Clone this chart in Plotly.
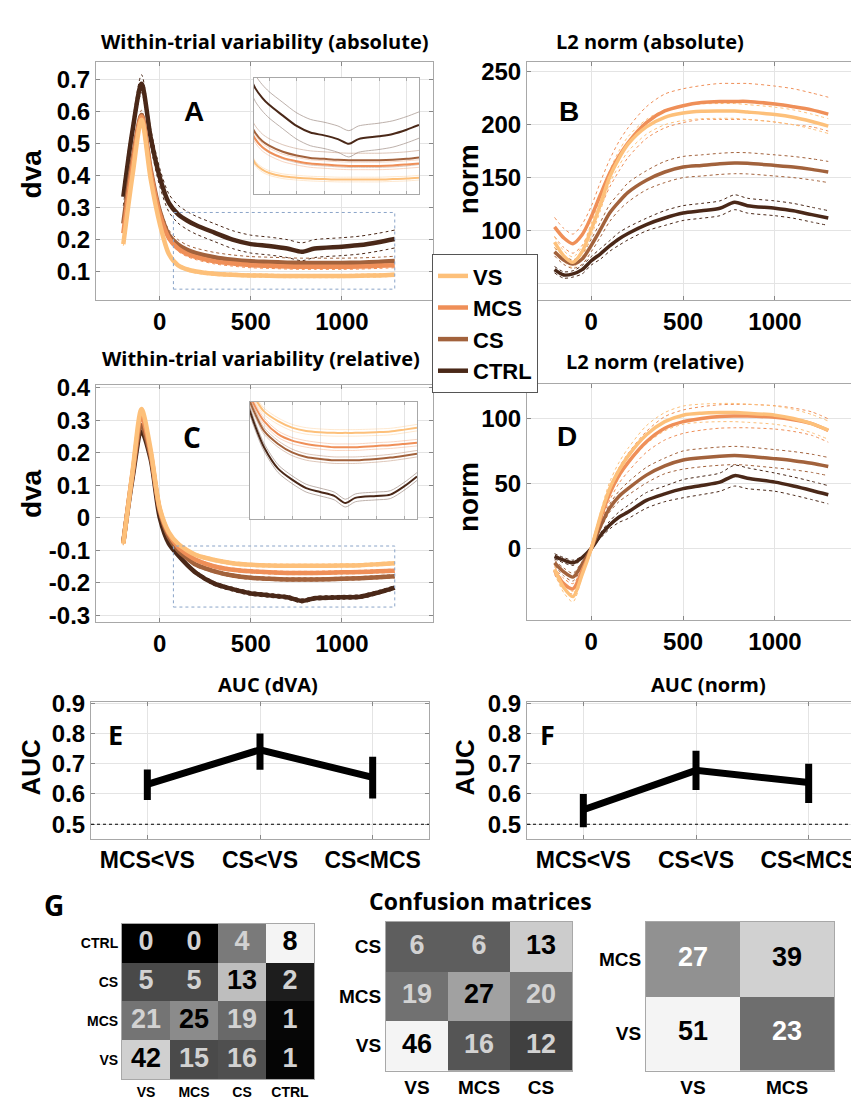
import numpy as np
import plotly.graph_objects as go

W, H = 859, 1101

# ---------------- data ----------------
GROUPS = ["VS", "MCS", "CS", "CTRL"]
COLORS = {"VS": "#FDC07A", "MCS": "#EF8F58", "CS": "#A2623C", "CTRL": "#4A2818"}

T = [-200, -150, -100, -50, 0, 50, 100, 150, 200, 300, 400, 500, 600, 700, 780, 850, 1000, 1100, 1200, 1290]

# A: within-trial variability (absolute), dva
A_VS = [0.186, 0.40, 0.575, 0.39, 0.25, 0.155, 0.12, 0.107, 0.10, 0.093, 0.09, 0.088, 0.087, 0.086, 0.086, 0.086, 0.086, 0.087, 0.088, 0.09]
A_MCS = [0.22, 0.43, 0.585, 0.41, 0.28, 0.205, 0.172, 0.155, 0.145, 0.132, 0.125, 0.12, 0.118, 0.116, 0.115, 0.115, 0.115, 0.116, 0.118, 0.12]
A_CS = [0.25, 0.45, 0.59, 0.42, 0.29, 0.215, 0.185, 0.168, 0.158, 0.145, 0.137, 0.132, 0.13, 0.128, 0.127, 0.127, 0.127, 0.128, 0.13, 0.133]
A_CTRL = [0.334, 0.54, 0.688, 0.52, 0.395, 0.315, 0.28, 0.26, 0.245, 0.222, 0.20, 0.186, 0.18, 0.172, 0.162, 0.172, 0.178, 0.183, 0.192, 0.202]
A_SEM = {"VS": 0.005, "MCS": 0.008, "CS": 0.015, "CTRL": 0.028}

# B: L2 norm (absolute)
B_VS = [89, 76, 70, 80, 101, 125, 150.6, 168, 181.7, 198, 207, 211, 212.7, 213, 213, 212, 209.6, 207, 203, 198.7]
B_MCS = [103.4, 93, 87.6, 96, 113, 134, 154, 170, 183, 202, 213, 218, 221, 222, 222, 222, 219.5, 217, 214, 210]
B_CS = [80, 72, 68.3, 73, 86, 101, 116.5, 127, 136, 147.5, 155.3, 160, 161.5, 163, 163.7, 163.5, 161.5, 160, 157.8, 155.3]
B_CTRL = [63, 58, 59, 63, 71.4, 78, 85.4, 92, 97.2, 105.6, 111.8, 116.5, 118.6, 121, 126.7, 123.5, 121, 118.6, 115, 111.8]
B_SEM_VS = [5, 5, 5, 5, 6, 6, 6, 7, 7, 7, 7, 7, 7, 7, 7, 7, 7, 7, 7, 7]
B_SEM_MCS = [9, 9, 9, 10, 10, 12, 13, 14, 14, 15, 16, 16, 16, 17, 17, 17, 17, 17, 16, 16]
B_SEM_CS = [4, 4, 4, 5, 6, 7, 8, 8, 9, 9, 10, 10, 10, 10, 10, 10, 10, 10, 10, 10]
B_SEM_CTRL = [3, 3, 3, 4, 4, 5, 5, 6, 6, 6, 7, 7, 7, 7, 7, 7, 7, 7, 7, 7]

# C: within-trial variability (relative)
C_VS = [-0.08, 0.14, 0.335, 0.21, 0.03, -0.045, -0.08, -0.10, -0.115, -0.13, -0.14, -0.145, -0.147, -0.148, -0.148, -0.148, -0.147, -0.146, -0.143, -0.14]
C_MCS = [-0.078, 0.135, 0.31, 0.20, 0.025, -0.05, -0.09, -0.113, -0.13, -0.15, -0.16, -0.165, -0.168, -0.17, -0.17, -0.17, -0.168, -0.167, -0.165, -0.163]
C_CS = [-0.078, 0.13, 0.285, 0.19, 0.02, -0.06, -0.10, -0.125, -0.145, -0.165, -0.178, -0.185, -0.188, -0.19, -0.19, -0.19, -0.188, -0.186, -0.183, -0.18]
C_CTRL = [-0.075, 0.12, 0.265, 0.18, 0.0, -0.08, -0.115, -0.145, -0.17, -0.203, -0.22, -0.233, -0.239, -0.245, -0.256, -0.248, -0.245, -0.243, -0.23, -0.215]
C_SEM = {"VS": 0.005, "MCS": 0.005, "CS": 0.005, "CTRL": 0.006}

# D: L2 norm (relative)
D_VS = [-16, -30, -37, -20, 0, 25, 46, 60, 71, 87.4, 97.5, 102.5, 104, 104.5, 104.5, 104, 102.5, 100, 96, 91]
D_MCS = [-17, -27, -31, -17, 0, 23, 42, 56, 66, 82, 92.4, 97.5, 100, 101.5, 101.8, 101.8, 100.8, 99, 96, 90.7]
D_CS = [-11, -18, -22, -12, 0, 17, 31, 40, 46, 56.4, 63.5, 68, 69.8, 71, 71.5, 71, 69, 67.5, 65.5, 63]
D_CTRL = [-6, -9, -11, -7, 0, 10, 18, 24, 28, 37, 42, 46, 48.4, 51, 56, 54, 51, 48, 44.6, 41.3]
D_SEM_VS = [3, 4, 4, 2, 0, 3, 5, 6, 6, 7, 7, 7, 7, 7, 7, 7, 7, 7, 7, 7]
D_SEM_MCS = [3, 4, 4, 2, 0, 3, 5, 6, 7, 8, 9, 9, 9, 9, 9, 9, 9, 9, 9, 9]
D_SEM_CS = [2, 3, 3, 2, 0, 2, 3, 4, 5, 6, 6, 7, 7, 7, 7, 7, 7, 7, 7, 7]
D_SEM_CTRL = [2, 2, 2, 1, 0, 2, 3, 4, 5, 6, 6, 7, 7, 7, 8, 8, 7, 7, 7, 7]

# E / F: AUC
COMPARISONS = ["MCS<VS", "CS<VS", "CS<MCS"]
AUC_DVA = [0.632, 0.746, 0.655]
AUC_DVA_LO = [0.580, 0.680, 0.585]
AUC_DVA_HI = [0.681, 0.800, 0.723]
AUC_NORM = [0.548, 0.678, 0.638]
AUC_NORM_LO = [0.490, 0.613, 0.570]
AUC_NORM_HI = [0.600, 0.743, 0.700]
CHANCE = 0.5

# G: confusion matrices (rows = true class, bottom to top; columns = predicted)
M1_LABELS = ["VS", "MCS", "CS", "CTRL"]
M1_COUNTS = [[42, 15, 16, 1],
             [21, 25, 19, 1],
             [5, 5, 13, 2],
             [0, 0, 4, 8]]
M2_LABELS = ["VS", "MCS", "CS"]
M2_COUNTS = [[46, 16, 12],
             [19, 27, 20],
             [6, 6, 13]]
M3_LABELS = ["VS", "MCS"]
M3_COUNTS = [[51, 23],
             [27, 39]]

# ---------------- styles ----------------
ARIAL = "Arial"
CAL = "Open Sans"
TICKFONT = dict(family=ARIAL, size=24, color="black", weight="bold")
GRID = "#e4e4e4"
LINE = "#a8a8a8"


def dx(l, r):
    return [l / W, r / W]


def dy(top, bottom):
    return [1 - bottom / H, 1 - top / H]


fig = go.Figure()


def add_panel(xa, ya, series, sems, width, legend=False, sem_dash="dot", sem_width=1.0, sem_opacity=1.0):
    order = ["CTRL", "CS", "MCS", "VS"]
    for g in order:
        v = np.array(series[g], dtype=float)
        s = np.array(sems[g], dtype=float) * np.ones_like(v)
        for band in (v + s, v - s):
            fig.add_trace(go.Scatter(x=T, y=band, mode="lines", xaxis=xa, yaxis=ya,
                                     line=dict(color=COLORS[g], width=sem_width, dash=sem_dash, shape="spline", smoothing=0.8),
                                     opacity=sem_opacity, showlegend=False, hoverinfo="skip"))
    for g in order:
        fig.add_trace(go.Scatter(x=T, y=series[g], mode="lines", xaxis=xa, yaxis=ya, name=g,
                                 line=dict(color=COLORS[g], width=width, shape="spline", smoothing=0.8),
                                 showlegend=legend, legendrank=GROUPS.index(g) + 1, hoverinfo="skip"))


A = {"VS": A_VS, "MCS": A_MCS, "CS": A_CS, "CTRL": A_CTRL}
B = {"VS": B_VS, "MCS": B_MCS, "CS": B_CS, "CTRL": B_CTRL}
C = {"VS": C_VS, "MCS": C_MCS, "CS": C_CS, "CTRL": C_CTRL}
D = {"VS": D_VS, "MCS": D_MCS, "CS": D_CS, "CTRL": D_CTRL}
B_SEM = {"VS": B_SEM_VS, "MCS": B_SEM_MCS, "CS": B_SEM_CS, "CTRL": B_SEM_CTRL}
D_SEM = {"VS": D_SEM_VS, "MCS": D_SEM_MCS, "CS": D_SEM_CS, "CTRL": D_SEM_CTRL}

add_panel("x", "y", A, A_SEM, 4.5, legend=True)
add_panel("x2", "y2", B, B_SEM, 3.5)
add_panel("x3", "y3", C, C_SEM, 4.5)
add_panel("x4", "y4", D, D_SEM, 3.5)
# insets
add_panel("x7", "y7", A, A_SEM, 2.0, sem_dash="solid", sem_width=0.8, sem_opacity=0.45)
add_panel("x8", "y8", C, C_SEM, 2.0, sem_dash="solid", sem_width=0.8, sem_opacity=0.45)

# AUC panels
XPOS = [1, 2, 3]
for xa, ya, vals, lo, hi in (("x5", "y5", AUC_DVA, AUC_DVA_LO, AUC_DVA_HI),
                             ("x6", "y6", AUC_NORM, AUC_NORM_LO, AUC_NORM_HI)):
    plus = [h - v for h, v in zip(hi, vals)]
    minus = [v - l for v, l in zip(vals, lo)]
    fig.add_trace(go.Scatter(x=XPOS, y=vals, mode="lines", xaxis=xa, yaxis=ya, showlegend=False,
                             line=dict(color="black", width=7), hoverinfo="skip",
                             error_y=dict(type="data", symmetric=False, array=plus, arrayminus=minus,
                                          thickness=7, width=0, color="black")))

# confusion matrices
def add_matrix(xa, ya, labels, counts, thr, light):
    cnt = np.array(counts, dtype=float)
    z = cnt / cnt.sum(axis=1, keepdims=True)
    zmax = z.max()
    fig.add_trace(go.Heatmap(x=labels, y=labels, z=z, xaxis=xa, yaxis=ya, zmin=0, zmax=zmax,
                             colorscale=[[0, "black"], [1, "#f4f4f4"]], showscale=False, hoverinfo="skip"))
    xs, ys, txt, cols = [], [], [], []
    for i, rl in enumerate(labels):
        for j, cl in enumerate(labels):
            xs.append(cl)
            ys.append(rl)
            txt.append(str(int(counts[i][j])))
            cols.append("black" if z[i, j] / zmax >= thr else light)
    fig.add_trace(go.Scatter(x=xs, y=ys, text=txt, mode="text", xaxis=xa, yaxis=ya, showlegend=False,
                             textfont=dict(family=ARIAL, size=27, color=cols, weight="bold"), hoverinfo="skip"))


add_matrix("x9", "y9", M1_LABELS, M1_COUNTS, 0.55, "#d2d2d2")
add_matrix("x10", "y10", M2_LABELS, M2_COUNTS, 0.55, "#d2d2d2")
add_matrix("x11", "y11", M3_LABELS, M3_COUNTS, 0.70, "#ffffff")


def line_axis(domain, rng, tickvals, anchor, ticktext=None, grid=True):
    d = dict(domain=domain, range=rng, tickvals=tickvals, anchor=anchor, showgrid=grid, gridcolor=GRID,
             gridwidth=1, zeroline=False, showline=True, mirror="ticks", linecolor=LINE, linewidth=1,
             ticks="inside", ticklen=4, tickcolor="#888", tickfont=TICKFONT)
    if ticktext is not None:
        d["ticktext"] = ticktext
    return d


XT = [0, 500, 1000]
CMP_TEXT = [c.replace("<", "&lt;") for c in COMPARISONS]
layout = dict(
    width=W, height=H, margin=dict(l=0, r=0, t=0, b=0), autosize=False,
    paper_bgcolor="white", plot_bgcolor="white", hovermode=False,
    xaxis=line_axis(dx(88, 425), [-350, 1500], XT, "y"),
    yaxis=line_axis(dy(43, 285), [0.01, 0.755], [0.1, 0.2, 0.3, 0.4, 0.5, 0.6, 0.7], "x",
                    ["0.1", "0.2", "0.3", "0.4", "0.5", "0.6", "0.7"]),
    xaxis2=line_axis(dx(519, 857), [-350, 1490], XT, "y2"),
    # the "50" label is hidden behind the legend in the original
    yaxis2=line_axis(dy(43, 285), [34, 259], [50, 100, 150, 200, 250], "x2", ["", "100", "150", "200", "250"]),
    xaxis3=line_axis(dx(88, 425), [-350, 1500], XT, "y3"),
    yaxis3=line_axis(dy(371, 612), [-0.321, 0.409], [-0.3, -0.2, -0.1, 0, 0.1, 0.2, 0.3, 0.4], "x3",
                     ["-0.3", "-0.2", "-0.1", "0", "0.1", "0.2", "0.3", "0.4"]),
    xaxis4=line_axis(dx(519, 857), [-350, 1490], XT, "y4"),
    yaxis4=line_axis(dy(370, 610), [-55, 126.5], [0, 50, 100], "x4"),
    xaxis5=line_axis(dx(83, 421), [0.5, 3.5], XPOS, "y5", CMP_TEXT),
    yaxis5=line_axis(dy(693, 833), [0.45, 0.905], [0.5, 0.6, 0.7, 0.8, 0.9], "x5",
                     ["0.5", "0.6", "0.7", "0.8", "0.9"]),
    xaxis6=line_axis(dx(519, 857), [0.5, 3.5], XPOS, "y6", CMP_TEXT),
    yaxis6=line_axis(dy(693, 833), [0.45, 0.905], [0.5, 0.6, 0.7, 0.8, 0.9], "x6",
                     ["0.5", "0.6", "0.7", "0.8", "0.9"]),
)
layout["xaxis5"]["tickfont"] = dict(family=ARIAL, size=23, color="black", weight="bold")
layout["xaxis6"]["tickfont"] = dict(family=ARIAL, size=23, color="black", weight="bold")

# inset axes
INSET_A_X, INSET_A_Y = [90, 1290], [0.055, 0.302]
INSET_C_X, INSET_C_Y = [100, 1290], [-0.28, -0.10]
for k, dom_x, dom_y, rx, ry in ((7, dx(246, 411), dy(59, 177), INSET_A_X, INSET_A_Y),
                                (8, dx(242, 409), dy(388, 507), INSET_C_X, INSET_C_Y)):
    layout[f"xaxis{k}"] = dict(domain=dom_x, range=rx, anchor=f"y{k}", showticklabels=False, showgrid=True,
                               gridcolor=GRID, tick0=0, dtick=200, zeroline=False, showline=True, mirror="ticks",
                               linecolor=LINE, ticks="inside", ticklen=3, tickcolor="#aaa")
    layout[f"yaxis{k}"] = dict(domain=dom_y, range=ry, anchor=f"x{k}", showticklabels=False, showgrid=False,
                               zeroline=False, showline=True, mirror=True, linecolor=LINE)

# matrix axes
for k, dom_x, dom_y, labels, fs in ((9, dx(114, 306), dy(919, 1077), M1_LABELS, 14),
                                     (10, dx(378, 564), dy(917, 1068), M2_LABELS, 19),
                                     (11, dx(638, 826), dy(917, 1068), M3_LABELS, 19)):
    common = dict(type="category", categoryorder="array", categoryarray=labels, showgrid=False, zeroline=False,
                  showline=True, mirror=True, linecolor=LINE, ticks="",
                  tickfont=dict(family=ARIAL, size=fs, color="black", weight="bold"))
    layout[f"xaxis{k}"] = dict(domain=dom_x, anchor=f"y{k}", **common)
    layout[f"yaxis{k}"] = dict(domain=dom_y, anchor=f"x{k}", **common)

layout["legend"] = dict(x=424 / W, y=1 - 238 / H, xanchor="left", yanchor="top", bgcolor="white",
                        bordercolor="#555", borderwidth=1, font=dict(family=ARIAL, size=22, color="black", weight="bold"),
                        itemwidth=30, tracegroupgap=0)
fig.update_layout(**layout)

# dotted zoom boxes
BOX_A = dict(x0=75, x1=1290, y0=0.045, y1=0.285)
BOX_C = dict(x0=75, x1=1290, y0=-0.275, y1=-0.087)
fig.add_shape(type="rect", xref="x", yref="y", **BOX_A, line=dict(color="#8aa4c8", width=1, dash="dot"))
fig.add_shape(type="rect", xref="x3", yref="y3", **BOX_C, line=dict(color="#8aa4c8", width=1, dash="dot"))
# chance lines
for k in (5, 6):
    fig.add_shape(type="line", xref=f"x{k} domain", x0=0, x1=1, yref=f"y{k}", y0=CHANCE, y1=CHANCE,
                  line=dict(color="black", width=1, dash="dot"))


def ann(text, x, y, size, family=CAL, angle=0):
    fig.add_annotation(text=text, x=x / W, y=1 - y / H, xref="paper", yref="paper", showarrow=False,
                       xanchor="center", yanchor="middle", textangle=angle,
                       font=dict(family=family, size=size, color="black", weight="bold"))


# titles
ann("Within-trial variability (absolute)", 257, 22, 20)
ann("L2 norm (absolute)", 642, 22, 20)
ann("Within-trial variability (relative)", 253, 344, 20)
ann("L2 norm (relative)", 647, 347, 20)
ann("AUC (dVA)", 260, 676, 20)
ann("AUC (norm)", 700, 676, 20)
ann("Confusion matrices", 472, 896, 23)
# panel letters
ann("A", 186, 93, 28, ARIAL)
ann("B", 561, 93, 28, ARIAL)
ann("C", 184, 424, 28, CAL)
ann("D", 559, 423, 28, ARIAL)
ann("E", 107, 726, 27, CAL)
ann("F", 539, 726, 27, CAL)
ann("G", 46, 900, 28, CAL)
# axis titles
ann("dva", 23, 157, 28, ARIAL, -90)
ann("norm", 460, 162, 28, ARIAL, -90)
ann("dva", 23, 482, 28, ARIAL, -90)
ann("norm", 460, 485, 28, ARIAL, -90)
ann("AUC", 23, 760, 26, ARIAL, -90)
ann("AUC", 457, 760, 26, ARIAL, -90)

fig.write_html("out.html")
